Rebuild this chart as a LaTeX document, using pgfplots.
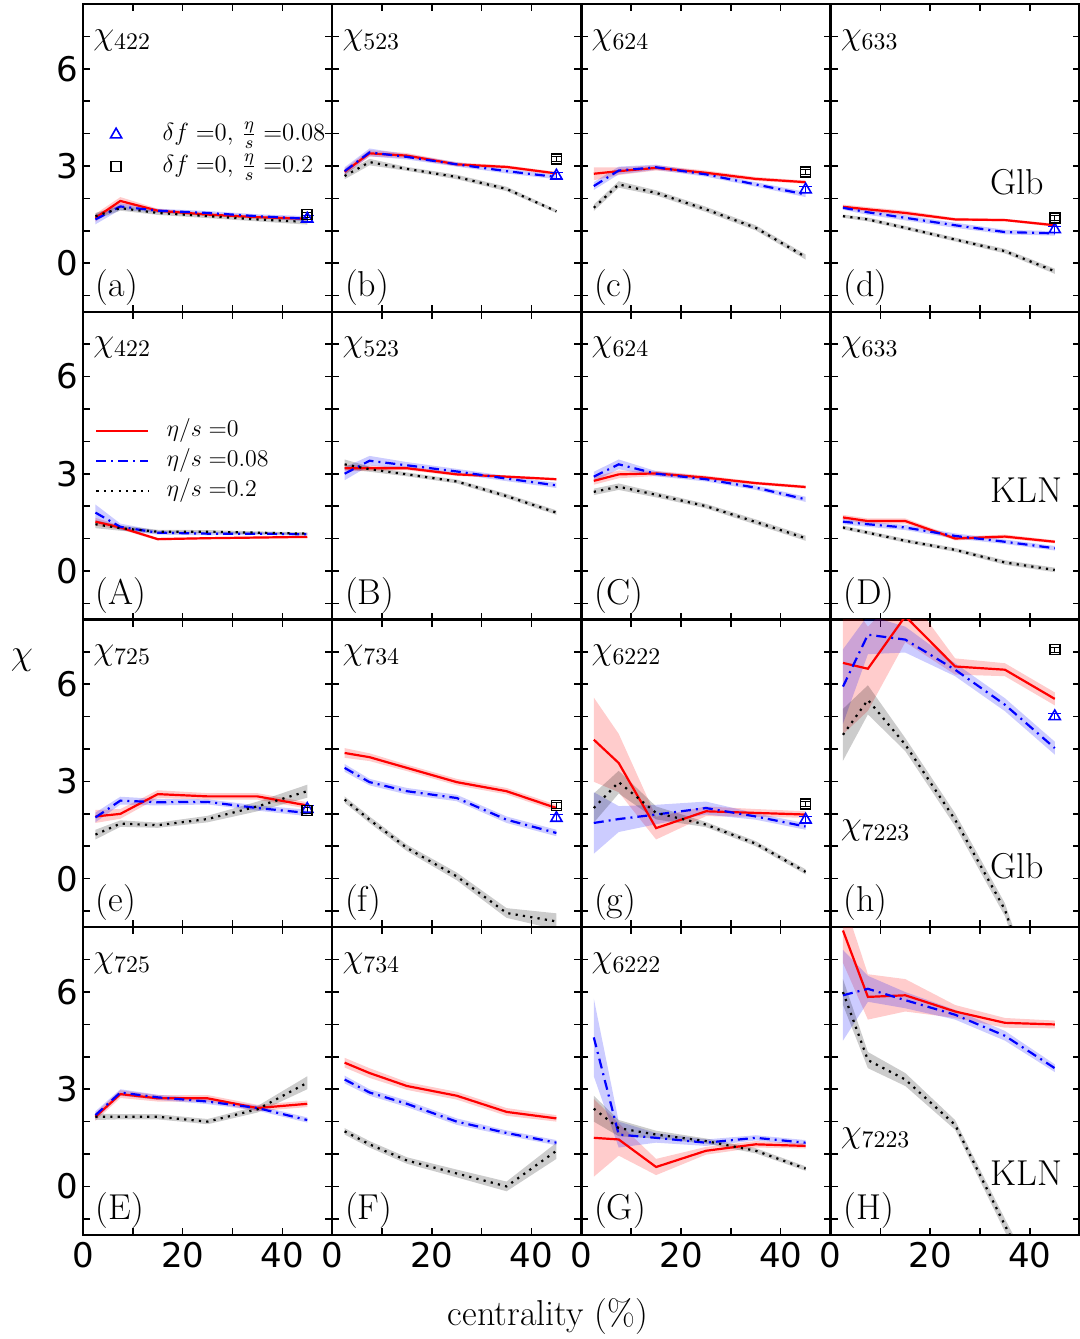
\RequirePackage{fix-cm}
\documentclass[border=0pt]{standalone}
\usepackage{fontspec}
\usepackage{pgfplots}
\usepackage{pgfplotstable}
\pgfplotsset{compat=1.18}
\usepgfplotslibrary{groupplots,fillbetween}
\newfontfamily\tickfont{DejaVu Sans}

% columns: x, value and band half width for eta/s = 0 (r), 0.08 (b), 0.2 (k)
\pgfplotstableread{
x    r    er   b    eb   k     ek
2.5  1.40 0.12 1.35 0.15 1.45  0.10
7.5  1.92 0.12 1.75 0.10 1.70  0.08
15   1.62 0.06 1.62 0.06 1.55  0.06
25   1.50 0.05 1.55 0.06 1.45  0.06
35   1.42 0.05 1.45 0.06 1.35  0.06
45   1.37 0.05 1.37 0.08 1.27  0.08
}\ta
\pgfplotstableread{
x    r    er   b    eb   k     ek
2.5  2.82 0.10 2.84 0.12 2.69  0.10
7.5  3.39 0.10 3.42 0.12 3.12  0.10
15   3.32 0.08 3.28 0.08 2.91  0.06
25   3.05 0.06 3.05 0.07 2.66  0.07
35   2.97 0.05 2.84 0.07 2.29  0.07
45   2.77 0.05 2.66 0.07 1.60  0.05
}\tb
\pgfplotstableread{
x    r    er   b    eb   k     ek
2.5  2.76 0.20 2.38 0.12 1.71  0.10
7.5  2.84 0.12 2.86 0.12 2.43  0.10
15   2.94 0.08 2.96 0.08 2.17  0.08
25   2.79 0.07 2.74 0.07 1.66  0.08
35   2.60 0.06 2.43 0.07 1.09  0.08
45   2.50 0.05 2.12 0.08 0.19  0.08
}\tc
\pgfplotstableread{
x    r    er   b    eb   k     ek
2.5  1.74 0.07 1.71 0.06 1.45  0.05
7.5  1.66 0.07 1.57 0.08 1.35  0.06
15   1.55 0.07 1.40 0.08 1.09  0.06
25   1.35 0.05 1.17 0.08 0.73  0.06
35   1.33 0.04 0.96 0.07 0.37  0.07
45   1.17 0.05 0.92 0.07 -0.25 0.08
}\td
\pgfplotstableread{
x    r    er   b    eb   k     ek
2.5  1.52 0.12 1.80 0.25 1.44  0.12
7.5  1.34 0.06 1.36 0.10 1.32  0.08
15   0.98 0.04 1.18 0.06 1.21  0.06
25   1.01 0.03 1.15 0.05 1.21  0.05
35   1.03 0.03 1.15 0.04 1.18  0.04
45   1.05 0.03 1.13 0.04 1.15  0.04
}\tA
\pgfplotstableread{
x    r    er   b    eb   k     ek
2.5  3.17 0.10 3.00 0.20 3.29  0.15
7.5  3.17 0.08 3.40 0.15 3.14  0.08
15   3.17 0.06 3.26 0.10 2.98  0.06
25   2.98 0.05 3.07 0.08 2.76  0.06
35   2.91 0.04 2.85 0.08 2.31  0.07
45   2.83 0.04 2.64 0.08 1.80  0.07
}\tB
\pgfplotstableread{
x    r    er   b    eb   k     ek
2.5  2.78 0.12 2.91 0.15 2.44  0.10
7.5  2.98 0.12 3.29 0.15 2.60  0.10
15   3.01 0.08 3.00 0.08 2.35  0.08
25   2.88 0.06 2.83 0.07 2.00  0.07
35   2.71 0.05 2.57 0.07 1.51  0.08
45   2.59 0.05 2.21 0.08 1.01  0.08
}\tC
\pgfplotstableread{
x    r    er   b    eb   k     ek
2.5  1.65 0.08 1.52 0.08 1.34  0.06
7.5  1.54 0.08 1.44 0.08 1.18  0.06
15   1.54 0.08 1.34 0.08 0.93  0.06
25   1.00 0.06 1.08 0.08 0.65  0.06
35   1.06 0.06 0.90 0.07 0.26  0.07
45   0.90 0.05 0.70 0.07 0.03  0.07
}\tD
\pgfplotstableread{
x    r    er   b    eb   k     ek
2.5  1.92 0.20 1.89 0.15 1.36  0.15
7.5  2.00 0.15 2.41 0.12 1.70  0.10
15   2.61 0.12 2.36 0.10 1.65  0.08
25   2.54 0.10 2.37 0.08 1.84  0.10
35   2.54 0.10 2.18 0.08 2.23  0.15
45   2.26 0.10 2.03 0.10 2.70  0.20
}\te
\pgfplotstableread{
x    r    er   b    eb   k     ek
2.5  3.88 0.15 3.42 0.12 2.44  0.10
7.5  3.75 0.12 2.98 0.10 1.82  0.10
15   3.42 0.10 2.70 0.10 0.95  0.10
25   2.98 0.10 2.49 0.10 0.07  0.12
35   2.70 0.10 1.82 0.10 -1.06 0.15
45   2.18 0.10 1.41 0.10 -1.32 0.25
}\tf
\pgfplotstableread{
x    r    er   b    eb   k     ek
2.5  4.29 1.30 1.72 0.95 2.18  0.45
7.5  3.57 0.90 1.84 0.40 2.98  0.35
15   1.56 0.35 1.98 0.30 2.03  0.20
25   2.08 0.15 2.18 0.20 1.67  0.08
35   2.03 0.12 1.92 0.10 1.08  0.08
45   1.98 0.10 1.61 0.10 0.21  0.08
}\tg
\pgfplotstableread{
x    r    er   b    eb   k     ek
2.5  6.66 2.20 5.93 1.15 4.44  0.80
7.5  6.48 1.30 7.53 0.60 5.52  0.45
15   8.10 0.80 7.38 0.40 4.14  0.20
25   6.55 0.25 6.45 0.20 1.82  0.20
35   6.45 0.20 5.37 0.20 -0.96 0.20
45   5.55 0.20 4.03 0.20 -5.50 0.25
}\th
\pgfplotstableread{
x    r    er   b    eb   k     ek
2.5  2.15 0.12 2.20 0.12 2.15  0.10
7.5  2.85 0.12 2.90 0.10 2.15  0.08
15   2.72 0.10 2.75 0.08 2.15  0.08
25   2.72 0.10 2.62 0.08 2.00  0.08
35   2.42 0.10 2.42 0.08 2.38  0.10
45   2.55 0.10 2.05 0.08 3.20  0.20
}\tE
\pgfplotstableread{
x    r    er   b    eb   k     ek
2.5  3.82 0.15 3.30 0.12 1.70  0.10
7.5  3.50 0.15 2.90 0.10 1.30  0.10
15   3.10 0.12 2.55 0.10 0.80  0.10
25   2.80 0.12 2.00 0.10 0.40  0.12
35   2.30 0.12 1.65 0.08 0.00  0.15
45   2.10 0.10 1.35 0.08 1.10  0.25
}\tF
\pgfplotstableread{
x    r    er   b    eb   k     ek
2.5  1.50 1.20 4.60 1.20 2.40  0.40
7.5  1.45 0.50 1.60 0.40 1.80  0.25
15   0.60 0.25 1.50 0.15 1.60  0.12
25   1.10 0.12 1.35 0.10 1.40  0.08
35   1.30 0.10 1.50 0.08 1.10  0.08
45   1.25 0.08 1.35 0.08 0.55  0.07
}\tG
\pgfplotstableread{
x    r    er   b    eb   k     ek
2.5  7.90 1.00 5.90 1.40 6.00  0.40
7.5  5.85 0.70 6.10 0.40 3.90  0.25
15   5.90 0.50 5.75 0.25 3.30  0.20
25   5.40 0.20 5.30 0.15 1.90  0.15
35   5.05 0.15 4.65 0.15 -1.20 0.20
45   5.00 0.12 3.65 0.12 -4.20 0.25
}\tH

\newcommand\band[3]{%
  \addplot[name path=u#2, draw=none, forget plot] table[x=x, y expr=\thisrow{#2}+\thisrow{e#2}] {#1};
  \addplot[name path=l#2, draw=none, forget plot] table[x=x, y expr=\thisrow{#2}-\thisrow{e#2}] {#1};
  \addplot[fill=#3, fill opacity=0.2, draw=none, forget plot] fill between[of=u#2 and l#2];
}
\newcommand\curves[1]{%
  \band{#1}{r}{red}
  \band{#1}{b}{blue}
  \band{#1}{k}{black}
  \addplot[red, line width=1.1pt, forget plot] table[x=x, y=r] {#1};
  \addplot[blue, line width=1.1pt, dash pattern=on 5pt off 2.5pt on 1pt off 2.5pt, forget plot] table[x=x, y=b] {#1};
  \addplot[black, line width=1.1pt, dash pattern=on 1.1pt off 2.6pt, forget plot] table[x=x, y=k] {#1};
}
% delta f = 0 points at 40-50%
\newcommand\dfzero[2]{%
  \addplot[blue, only marks, mark=triangle, mark size=3.2pt, line width=0.8pt, forget plot,
    error bars/.cd, y dir=both, y explicit] coordinates {(45,#1) +- (0,0.1)};
  \addplot[black, only marks, mark=square, mark size=2.5pt, line width=0.8pt, forget plot,
    error bars/.cd, y dir=both, y explicit] coordinates {(45,#2) +- (0,0.08)};
}
\newcommand\lab[1]{\node[anchor=base west, inner sep=0pt, font=\fontsize{18}{20}\selectfont] at (rel axis cs:0.05,0.05) {#1};}
\newcommand\chil[2][0.87]{\node[anchor=base west, inner sep=0pt, font=\fontsize{17}{20}\selectfont] at (rel axis cs:0.04,#1) {$\chi_{#2}$};}
\newcommand\model[2]{\node[anchor=base west, inner sep=0pt, font=\fontsize{18}{20}\selectfont] at (rel axis cs:0.64,#1) {#2};}

\begin{document}
\begin{tikzpicture}
\begin{groupplot}[
  group style={group size=4 by 4, horizontal sep=0pt, vertical sep=0pt,
    xticklabels at=edge bottom, yticklabels at=edge left},
  width=124.6pt, height=153.9pt, scale only axis,
  xmin=0, xmax=50, ymin=-1.5, ymax=8,
  xtick={0,20,40}, minor xtick={10,30},
  ytick={0,3,6}, minor ytick={-1,1,2,4,5,7},
  tick align=inside, major tick length=3.5pt, minor tick length=3.5pt,
  every tick/.style={black, line width=0.8pt},
  axis line style={line width=1.2pt},
  /pgf/number format/assume math mode=true,
  tick label style={font=\tickfont\fontsize{17}{20}\selectfont},
  yticklabel style={inner xsep=2pt},
  legend cell align=left,
]
\nextgroupplot[
  legend style={draw=none, fill=none, at={(0.085,0.637)}, anchor=north west,
    font=\fontsize{12.4}{14}\selectfont, row sep=1.5pt,
    nodes={inner sep=0pt, text height=10pt, text depth=4.5pt},
    /tikz/every odd column/.append style={column sep=20.5pt}},
  legend image code/.code={\draw[#1] plot coordinates {(0pt,0pt)};},
]
\curves{\ta}
\dfzero{1.37}{1.50}
\addlegendimage{blue, only marks, mark=triangle, mark size=3.2pt, line width=0.8pt}
\addlegendentry{$\delta f\;{=}0$, $\frac{\eta}{s}\;{=}0.08$}
\addlegendimage{black, only marks, mark=square, mark size=2.5pt, line width=0.8pt}
\addlegendentry{$\delta f\;{=}0$, $\frac{\eta}{s}\;{=}0.2$}
\chil{422}\lab{(a)}
\nextgroupplot
\curves{\tb}\dfzero{2.70}{3.22}
\chil{523}\lab{(b)}
\nextgroupplot
\curves{\tc}\dfzero{2.27}{2.81}
\chil{624}\lab{(c)}
\nextgroupplot
\curves{\td}\dfzero{1.04}{1.40}
\chil{633}\lab{(d)}\model{0.38}{Glb}

\nextgroupplot[
  legend style={draw=none, fill=none, at={(0.024,0.666)}, anchor=north west,
    font=\fontsize{12}{14}\selectfont, row sep=3pt,
    nodes={inner sep=0pt, text height=9pt, text depth=3pt},
    /tikz/every odd column/.append style={column sep=8.5pt}},
  legend image code/.code={\draw[#1] (0pt,0pt) -- (26pt,0pt);},
]
\curves{\tA}
\addlegendimage{red, line width=1.1pt}
\addlegendentry{$\eta/s\;{=}0$}
\addlegendimage{blue, line width=1.1pt, dash pattern=on 5pt off 2.5pt on 1pt off 2.5pt}
\addlegendentry{$\eta/s\;{=}0.08$}
\addlegendimage{black, line width=1.1pt, dash pattern=on 1.1pt off 2.6pt}
\addlegendentry{$\eta/s\;{=}0.2$}
\chil{422}\lab{(A)}
\nextgroupplot
\curves{\tB}
\chil{523}\lab{(B)}
\nextgroupplot
\curves{\tC}
\chil{624}\lab{(C)}
\nextgroupplot
\curves{\tD}
\chil{633}\lab{(D)}\model{0.38}{KLN}

\nextgroupplot
\curves{\te}\dfzero{2.15}{2.11}
\chil{725}\lab{(e)}
\nextgroupplot
\curves{\tf}\dfzero{1.87}{2.26}
\chil{734}\lab{(f)}
\nextgroupplot
\curves{\tg}\dfzero{1.82}{2.31}
\chil{6222}\lab{(g)}
\nextgroupplot
\curves{\th}\dfzero{5.01}{7.07}
\chil[0.30]{7223}\lab{(h)}\model{0.16}{Glb}

\nextgroupplot
\curves{\tE}
\chil{725}\lab{(E)}
\nextgroupplot
\curves{\tF}
\chil{734}\lab{(F)}
\nextgroupplot
\curves{\tG}
\chil{6222}\lab{(G)}
\nextgroupplot
\curves{\tH}
\chil[0.30]{7223}\lab{(H)}\model{0.16}{KLN}
\end{groupplot}
\node[font=\fontsize{18}{20}\selectfont] at ([xshift=-30.5pt, yshift=-20.5pt]group c1r3.north west) {$\chi$};
\node[font=\fontsize{18}{20}\selectfont] at ([xshift=232.5pt, yshift=-41pt]group c1r4.south west) {centrality (\%)};
\pgfresetboundingbox
\path ([xshift=-41.5pt, yshift=2pt]group c1r1.north west) rectangle ([yshift=-52pt]group c4r4.south east);
\end{tikzpicture}
\end{document}
